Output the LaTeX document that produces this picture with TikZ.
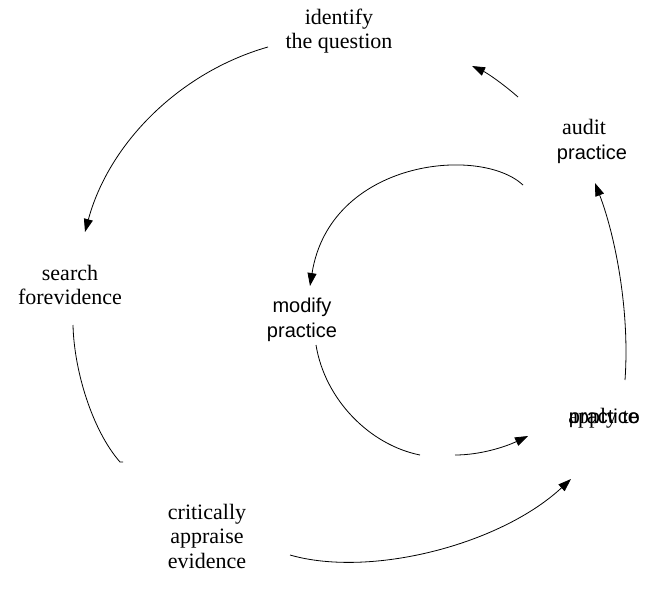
\documentclass[tikz,border=0pt]{standalone}
\usepackage{fontspec}
\setmainfont{Liberation Serif}
\newfontfamily\arialfont{Liberation Sans}
\usetikzlibrary{arrows.meta}
\begin{document}
\begin{tikzpicture}[x=1pt,y=-1pt,
  lbl/.style={align=center, inner sep=0pt, font=\fontsize{22}{24.5}\selectfont},
  slbl/.style={align=center, inner sep=0pt, font=\arialfont\fontsize{20}{24.5}\selectfont},
  conn/.style={line width=0.8pt, -{Triangle[length=13pt,width=9pt]}},
  plainconn/.style={line width=0.8pt}]
\useasboundingbox (0,0) rectangle (650,592);
% labels
\node[lbl] (identify) at (339,31) {identify\\the question};
\node[lbl] (search) at (70,285) {search\\forevidence};
\node[lbl] (critically) at (207,536) {critically\\appraise\\evidence};
\node[lbl,anchor=base] (applyto) at (604,423) {apply to};
\node[slbl,anchor=base] (applyp) at (604,423) {practice};
\node[lbl,anchor=base] (audit) at (584,134) {audit};
\node[slbl,anchor=base] (auditp) at (592,159) {practice};
\node[slbl] (modify) at (302,320) {modify\\practice};
% connector end points
\coordinate (a1s) at (268,47);  \coordinate (a1e) at (85,232);
\coordinate (a2s) at (73,325);  \coordinate (a2e) at (120,462);
\coordinate (a3s) at (290,555); \coordinate (a3e) at (571,479);
\coordinate (a4s) at (625,380); \coordinate (a4e) at (595,183);
\coordinate (a5s) at (518,97);  \coordinate (a5e) at (472,66);
\coordinate (b1s) at (523,185); \coordinate (b1e) at (310,286);
\coordinate (b2s) at (316,345); \coordinate (b2e) at (420,455);
\coordinate (b3s) at (455,455); \coordinate (b3e) at (528,436);
% outer cycle
\draw[conn] (a1s) .. controls (180,72) and (109,143) .. (a1e);
\draw[plainconn] (a2s) .. controls (74,370) and (92,430) .. (a2e) -- ++(3,0);
\draw[conn] (a3s) .. controls (370,578) and (500,545) .. (a3e);
\draw[conn] (a4s) .. controls (630,310) and (615,235) .. (a4e);
\draw[conn] (a5s) .. controls (502,83) and (487,73) .. (a5e);
% inner cycle
\draw[conn] (b1s) .. controls (480,145) and (330,160) .. (b1e);
\draw[plainconn] (b2s) .. controls (325,400) and (370,445) .. (b2e);
\draw[conn] (b3s) .. controls (480,455) and (505,447) .. (b3e);
\end{tikzpicture}
\end{document}
